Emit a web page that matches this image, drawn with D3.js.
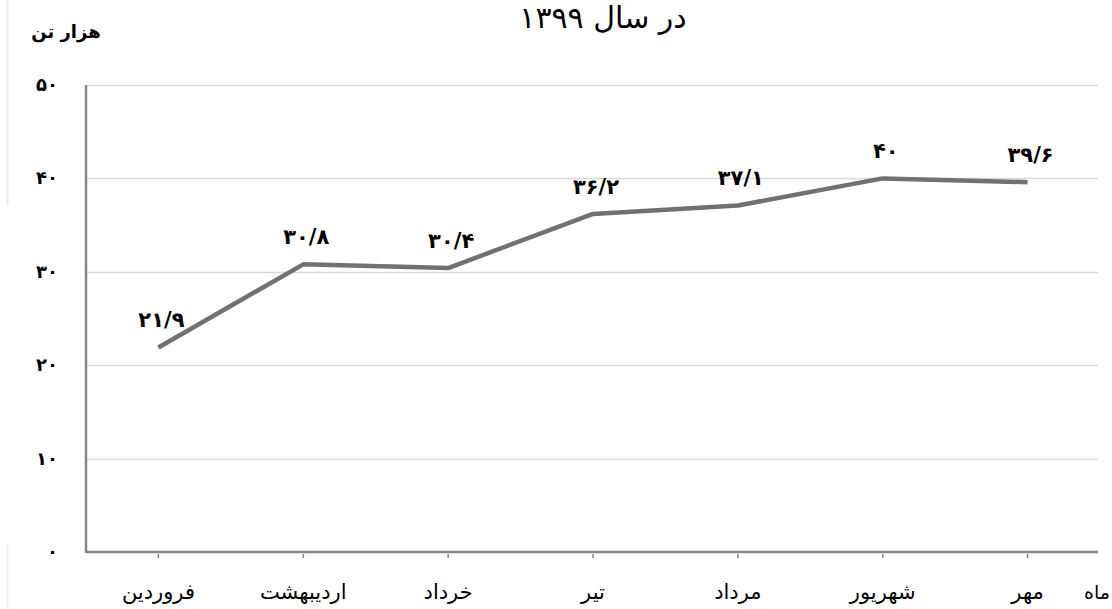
<!DOCTYPE html>
<html><head><meta charset="utf-8">
<script src="https://cdn.jsdelivr.net/npm/d3@7"></script>
<style>body{margin:0;background:#fff;overflow:hidden}svg{display:block}</style>
</head><body><svg id="c" width="1112" height="609"></svg>
<script>
const months = ["فروردین","اردیبهشت","خرداد","تیر","مرداد","شهریور","مهر"];
const values = [21.9, 30.8, 30.4, 36.2, 37.1, 40, 39.6];
const valueLabels = ["۲۱/۹","۳۰/۸","۳۰/۴","۳۶/۲","۳۷/۱","۴۰","۳۹/۶"];
const yTicks = [0,10,20,30,40,50];
const yTickLabels = ["۰","۱۰","۲۰","۳۰","۴۰","۵۰"];
const title = "در سال ۱۳۹۹";
const unitLabel = "هزار تن";
const xAxisTitle = "ماه";

const svg = d3.select("#c");
const font = "'DejaVu Sans', Tahoma, sans-serif";
const L = 86, R = 1100, T = 85, B = 552;
const x = d3.scaleBand().domain(months).range([L, R]).padding(0);
const y = d3.scaleLinear().domain([0,50]).range([B, T]);

// faint left border artifacts
svg.append("line").attr("x1",7.5).attr("x2",7.5).attr("y1",0).attr("y2",205).attr("stroke","#ececec").attr("stroke-width",2);
svg.append("line").attr("x1",7.5).attr("x2",7.5).attr("y1",545).attr("y2",609).attr("stroke","#f0f0f0").attr("stroke-width",2);

// gridlines
svg.append("g").selectAll("line").data(yTicks.filter(d=>d>0)).join("line")
  .attr("x1",L).attr("x2",1098).attr("y1",d=>Math.round(y(d))+0.5).attr("y2",d=>Math.round(y(d))+0.5)
  .attr("stroke","#d9d9d9").attr("stroke-width",1.5);

// y tick labels
svg.append("g").selectAll("text").data(yTicks).join("text")
  .attr("x",58).attr("y",d=>y(d)+6).attr("text-anchor","end")
  .attr("font-family",font).attr("font-weight","bold").attr("font-size",18).attr("fill","#000")
  .text((d,i)=>yTickLabels[i]);

// x axis
const xAxis = d3.axisBottom(x).tickSize(6).tickFormat("");
const gx = svg.append("g").attr("transform",`translate(0,${B})`).call(xAxis);
gx.select(".domain").attr("d",`M${L},0H1098`).attr("stroke","#868686").attr("stroke-width",2.5);
gx.selectAll(".tick line").attr("stroke","#868686").attr("stroke-width",1.5).attr("y1",2);

// y axis line
svg.append("line").attr("x1",L).attr("x2",L).attr("y1",T).attr("y2",B+1).attr("stroke","#868686").attr("stroke-width",2.5);

// x labels
svg.append("g").selectAll("text").data(months).join("text")
  .attr("x",d=>x(d)+x.bandwidth()/2).attr("y",599).attr("text-anchor","middle")
  .attr("direction","rtl")
  .attr("font-family",font).attr("font-size",21).attr("fill","#000").text(d=>d);

svg.append("text").attr("x",1110).attr("y",599).attr("text-anchor","end")
  .attr("font-family",font).attr("font-size",19).attr("fill","#000").text(xAxisTitle);

// line
const line = d3.line().x((d,i)=>x(months[i])+x.bandwidth()/2).y(d=>y(d));
svg.append("path").datum(values).attr("d",line).attr("fill","none")
  .attr("stroke","#717171").attr("stroke-width",4.5).attr("stroke-linejoin","round");

// value labels
svg.append("g").selectAll("text").data(values).join("text")
  .attr("x",(d,i)=>x(months[i])+x.bandwidth()/2+3).attr("y",d=>y(d)-20).attr("text-anchor","middle")
  .attr("font-family",font).attr("font-weight","bold").attr("font-size",21).attr("fill","#000")
  .attr("direction","ltr")
  .text((d,i)=>valueLabels[i]);

// title
svg.append("text").attr("x",603).attr("y",28).attr("text-anchor","middle")
  .attr("font-family",font).attr("font-size",30).attr("fill","#000").attr("direction","rtl").text(title);

// unit
svg.append("text").attr("x",66).attr("y",38).attr("text-anchor","middle")
  .attr("font-family",font).attr("font-weight","bold").attr("font-size",18).attr("fill","#000").attr("direction","rtl").text(unitLabel);
</script></body></html>
